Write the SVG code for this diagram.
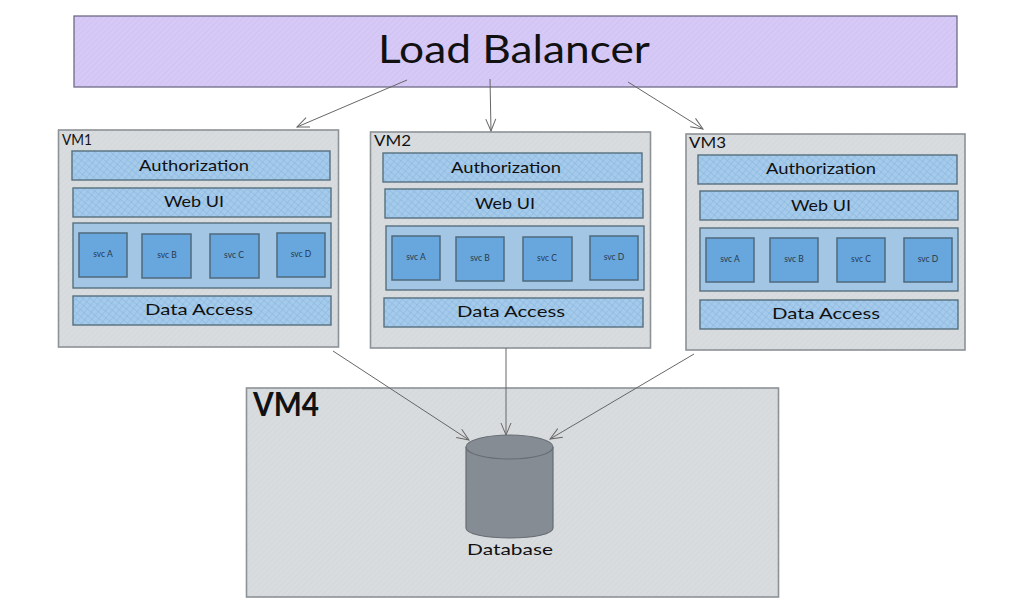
<svg xmlns="http://www.w3.org/2000/svg" width="1022" height="616" viewBox="0 0 1022 616">
<style>
text{font-family:"Lato","Noto Sans","Liberation Sans",sans-serif;fill:#111;text-anchor:middle}
.lb{fill:url(#hLb);stroke:#6f6a85;stroke-width:1.3}
.vm{fill:url(#hVm);stroke:#8d9296;stroke-width:1.6}
.bar{fill:url(#hBar);stroke:#56707f;stroke-width:1.4}
.box{fill:#a3c6e4;stroke:#56707f;stroke-width:1.4}
.svc{fill:#68a7de;stroke:#4f6a7c;stroke-width:1.5}
.t{font-size:16px}
.s{font-size:8.5px;fill:#27384a}
.vt{font-size:16px;text-anchor:start}
.c{fill:none;stroke:#666;stroke-width:1;marker-end:url(#a)}
.db{fill:#858c94;stroke:#676d74;stroke-width:1.2}
</style>
<defs>
<pattern id="hLb" width="4" height="4" patternUnits="userSpaceOnUse" patternTransform="rotate(45)"><rect width="4" height="4" fill="#d6c9f6"/><path d="M0 0V4" stroke="#cbbcf0" stroke-width="1"/></pattern>
<pattern id="hVm" width="4" height="4" patternUnits="userSpaceOnUse" patternTransform="rotate(45)"><rect width="4" height="4" fill="#d9dcde"/><path d="M0 0V4" stroke="#d0d4d7" stroke-width="1"/></pattern>
<pattern id="hBar" width="5" height="5" patternUnits="userSpaceOnUse" patternTransform="rotate(40)"><rect width="5" height="5" fill="#a6cbea"/><path d="M0 0V5M0 0H5" stroke="#84b4e0" stroke-width="1"/></pattern>
<marker id="a" viewBox="0 0 14 12" refX="13" refY="6" markerWidth="14" markerHeight="12" markerUnits="userSpaceOnUse" orient="auto"><path d="M1 1L13 6L1 11" fill="none" stroke="#666" stroke-width="1"/></marker>
</defs>
<g id="load-balancer"><rect class="lb" x="74" y="16" width="883" height="71"/><text x="514" y="63" font-size="38" textLength="272" lengthAdjust="spacingAndGlyphs">Load Balancer</text></g>
<g id="vm1"><rect class="vm" x="58.500" y="130" width="280" height="217"/><text class="vt" x="62" y="145" textLength="30" lengthAdjust="spacingAndGlyphs">VM1</text></g>
<g id="vm1-auth"><rect class="bar" x="72" y="151" width="258" height="29"/><text class="t" x="194" y="171" textLength="110" lengthAdjust="spacingAndGlyphs">Authorization</text></g>
<g id="vm1-web"><rect class="bar" x="73" y="188" width="258" height="29"/><text class="t" x="194" y="207" textLength="60" lengthAdjust="spacingAndGlyphs">Web UI</text></g>
<g id="vm1-svcs"><rect class="box" x="73" y="223" width="258" height="65"/></g>
<g id="vm1-a"><rect class="svc" x="79" y="233" width="48" height="44"/><text class="s" x="103" y="257">svc A</text></g>
<g id="vm1-b"><rect class="svc" x="142" y="234" width="49" height="44"/><text class="s" x="167" y="258">svc B</text></g>
<g id="vm1-c"><rect class="svc" x="210" y="234" width="49" height="44"/><text class="s" x="234" y="258">svc C</text></g>
<g id="vm1-d"><rect class="svc" x="277" y="233" width="48" height="44"/><text class="s" x="301" y="257">svc D</text></g>
<g id="vm1-data"><rect class="bar" x="73" y="296" width="258" height="29"/><text class="t" x="199" y="315" textLength="108" lengthAdjust="spacingAndGlyphs">Data Access</text></g>
<g id="vm2"><rect class="vm" x="370.500" y="132" width="280" height="216"/><text class="vt" x="374" y="146" textLength="37" lengthAdjust="spacingAndGlyphs">VM2</text></g>
<g id="vm2-auth"><rect class="bar" x="383" y="153" width="259" height="29"/><text class="t" x="506" y="173" textLength="110" lengthAdjust="spacingAndGlyphs">Authorization</text></g>
<g id="vm2-web"><rect class="bar" x="385" y="189" width="258" height="29"/><text class="t" x="505" y="209" textLength="60" lengthAdjust="spacingAndGlyphs">Web UI</text></g>
<g id="vm2-svcs"><rect class="box" x="386" y="226" width="258" height="64"/></g>
<g id="vm2-a"><rect class="svc" x="392" y="236" width="48" height="44"/><text class="s" x="416" y="260">svc A</text></g>
<g id="vm2-b"><rect class="svc" x="456" y="237" width="48" height="44"/><text class="s" x="480" y="261">svc B</text></g>
<g id="vm2-c"><rect class="svc" x="523" y="237" width="49" height="44"/><text class="s" x="547" y="261">svc C</text></g>
<g id="vm2-d"><rect class="svc" x="590" y="236" width="48" height="44"/><text class="s" x="614" y="260">svc D</text></g>
<g id="vm2-data"><rect class="bar" x="384" y="298" width="259" height="29"/><text class="t" x="511" y="317" textLength="108" lengthAdjust="spacingAndGlyphs">Data Access</text></g>
<g id="vm3"><rect class="vm" x="686" y="134" width="279" height="216"/><text class="vt" x="689" y="148" textLength="37" lengthAdjust="spacingAndGlyphs">VM3</text></g>
<g id="vm3-auth"><rect class="bar" x="698" y="155" width="259" height="29"/><text class="t" x="821" y="174" textLength="110" lengthAdjust="spacingAndGlyphs">Authorization</text></g>
<g id="vm3-web"><rect class="bar" x="700" y="191" width="258" height="29"/><text class="t" x="821" y="211" textLength="60" lengthAdjust="spacingAndGlyphs">Web UI</text></g>
<g id="vm3-svcs"><rect class="box" x="700" y="228" width="258" height="63"/></g>
<g id="vm3-a"><rect class="svc" x="706" y="238" width="48" height="44"/><text class="s" x="730" y="262">svc A</text></g>
<g id="vm3-b"><rect class="svc" x="770" y="238" width="48" height="44"/><text class="s" x="794" y="262">svc B</text></g>
<g id="vm3-c"><rect class="svc" x="837" y="238" width="48" height="44"/><text class="s" x="861" y="262">svc C</text></g>
<g id="vm3-d"><rect class="svc" x="904" y="238" width="48" height="44"/><text class="s" x="928" y="262">svc D</text></g>
<g id="vm3-data"><rect class="bar" x="700" y="300" width="258" height="29"/><text class="t" x="826" y="319" textLength="108" lengthAdjust="spacingAndGlyphs">Data Access</text></g>
<g id="vm4"><rect class="vm" x="246.500" y="388" width="532" height="209"/><text class="vt" x="253" y="416" style="font-size:32px;font-weight:700" textLength="66" lengthAdjust="spacingAndGlyphs">VM4</text></g>
<g id="database"><path class="db" d="M466 447V528C466 534 486 538 510 538S553 534 553 528V447"/><ellipse class="db" cx="509.500" cy="447" rx="43.500" ry="12"/><text x="510" y="555" font-size="16" textLength="86" lengthAdjust="spacingAndGlyphs">Database</text></g>
<g id="connectors">
<path class="c" d="M407 80L297 127"/>
<path class="c" d="M490 79L491 131"/>
<path class="c" d="M628 82L703 129"/>
<path class="c" d="M333 351L469 440"/>
<path class="c" d="M506 348L506 435"/>
<path class="c" d="M694 354L550 439"/>
</g>
</svg>
